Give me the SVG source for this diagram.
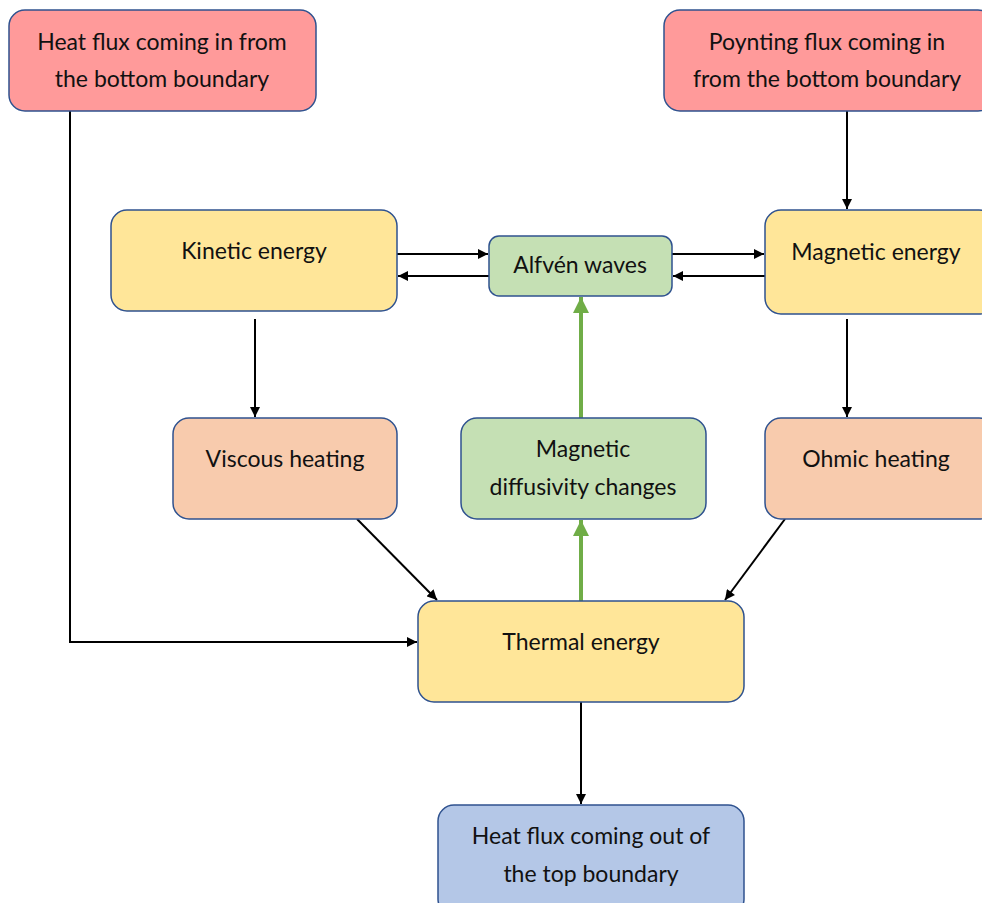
<svg xmlns="http://www.w3.org/2000/svg" width="982" height="903" viewBox="0 0 982 903">
<defs>
<marker id="ah" viewBox="0 0 10 10" refX="10" refY="5" markerWidth="5.5" markerHeight="5" orient="auto" markerUnits="strokeWidth"><path d="M0,0 L10,5 L0,10 z" fill="#000"/></marker>
<marker id="gh" viewBox="0 0 10 10" refX="10" refY="5" markerWidth="4" markerHeight="4.2" orient="auto" markerUnits="strokeWidth"><path d="M0,0 L10,5 L0,10 z" fill="#70AD47"/></marker>
</defs>
<style>
.box{stroke:#2F528F;stroke-width:1.5}
.red{fill:#FF9A9A}.yel{fill:#FFE699}.grn{fill:#C5E0B4}.pch{fill:#F8CBAD}.blu{fill:#B4C7E7}
text{font-family:Lato,"Open Sans",sans-serif;font-size:23px;fill:#111;text-anchor:middle}
.c{fill:none;stroke:#000;stroke-width:2;marker-end:url(#ah)}
.g{fill:none;stroke:#70AD47;stroke-width:4;marker-end:url(#gh)}
</style>
<rect width="982" height="903" fill="#fff"/>
<g id="connectors">
<path class="c" d="M70,111 V642 H417"/>
<path class="c" d="M847,111 V209"/>
<path class="c" d="M397,254 H488"/>
<path class="c" d="M489,276 H398"/>
<path class="c" d="M672,254 H764"/>
<path class="c" d="M765,276 H673"/>
<path class="c" d="M255,319 V417"/>
<path class="c" d="M847,319 V417"/>
<path class="c" d="M357,519 L437,600"/>
<path class="c" d="M785,519 L725,600"/>
<path class="c" d="M581,702 V804"/>
<path class="g" d="M581,601 V520"/>
<path class="g" d="M581,418 V297"/>
</g>
<g id="heat-in"><rect class="box red" x="9" y="10" width="307" height="101" rx="16"/><text x="162" y="50">Heat flux coming in from</text><text x="162" y="87">the bottom boundary</text></g>
<g id="poynting-in"><rect class="box red" x="664" y="10" width="330" height="101" rx="16"/><text x="827" y="50">Poynting flux coming in</text><text x="827" y="87">from the bottom boundary</text></g>
<g id="kinetic"><rect class="box yel" x="111" y="210" width="286" height="101" rx="16"/><text x="254" y="259">Kinetic energy</text></g>
<g id="alfven"><rect class="box grn" x="489" y="236" width="183" height="60" rx="10"/><text x="580" y="273">Alfvén waves</text></g>
<g id="magnetic"><rect class="box yel" x="765" y="210" width="230" height="104" rx="16"/><text x="876" y="260">Magnetic energy</text></g>
<g id="viscous"><rect class="box pch" x="173" y="418" width="224" height="101" rx="16"/><text x="285" y="467">Viscous heating</text></g>
<g id="diffusivity"><rect class="box grn" x="461" y="418" width="245" height="101" rx="16"/><text x="583" y="457">Magnetic</text><text x="583" y="495">diffusivity changes</text></g>
<g id="ohmic"><rect class="box pch" x="765" y="418" width="230" height="101" rx="16"/><text x="876" y="467">Ohmic heating</text></g>
<g id="thermal"><rect class="box yel" x="418" y="601" width="326" height="101" rx="16"/><text x="581" y="650">Thermal energy</text></g>
<g id="heat-out"><rect class="box blu" x="438" y="805" width="306" height="110" rx="16"/><text x="591" y="844">Heat flux coming out of</text><text x="591" y="882">the top boundary</text></g>
</svg>
